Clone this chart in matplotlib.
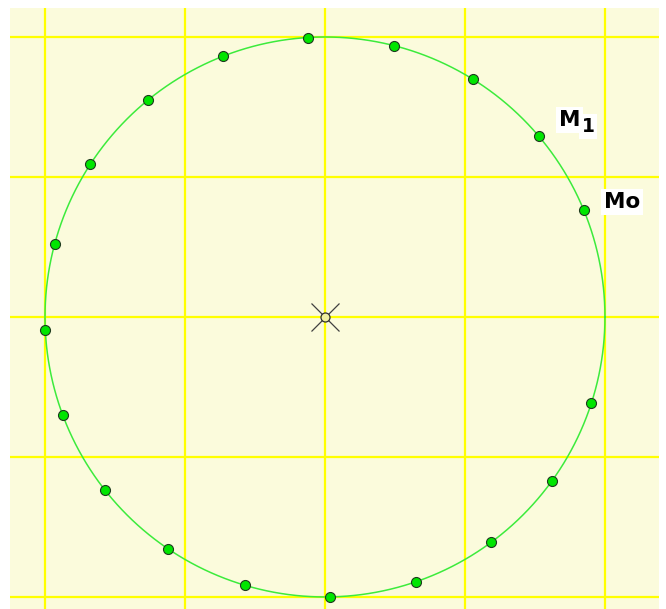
import numpy as np
import matplotlib
matplotlib.use("Agg")
import matplotlib.pyplot as plt

# ---- data ----
radius = 2.0
center_x, center_y = 0.0, 0.0
point_angles_deg = [22.4, 40.3, 58.1, 75.8, 93.5, 111.4, 129.3, 147.0, 164.8,
                    182.7, 200.4, 218.2, 236.0, 253.4, 271.0, 289.0, 306.4,
                    324.2, 342.0]
grid_x = [-2, -1, 0, 1, 2]
grid_y = [-2, -1, 0, 1, 2]
label_m0_index = 0
label_m1_index = 1

fig = plt.figure(figsize=(6.66, 6.09), dpi=100)
W, H = 666, 609
ax = fig.add_axes([10 / W, 0, (659 - 10) / W, (609 - 8) / H])
ax.set_facecolor("#FBFBDC")
ax.set_xlim(-2.25, 2.386)
ax.set_ylim(-2.086, 2.207)
for s in ax.spines.values():
    s.set_visible(False)
ax.set_xticks([])
ax.set_yticks([])

for gx in grid_x:
    ax.axvline(gx, color="#FFFF00", lw=1.6, zorder=1)
for gy in grid_y:
    ax.axhline(gy, color="#FFFF00", lw=1.6, zorder=1)

t = np.linspace(0, 2 * np.pi, 721)
ax.plot(center_x + radius * np.cos(t), center_y + radius * np.sin(t),
        color="#3CEB3C", lw=1.1, zorder=2)

a = np.deg2rad(point_angles_deg)
px = center_x + radius * np.cos(a)
py = center_y + radius * np.sin(a)
ax.plot(px, py, "o", ms=7.2, mfc="#00E600", mec="#1E3A1E", mew=0.8, zorder=3)

# center marker
ax.plot([center_x], [center_y], marker="x", ms=20, mew=0.9, color="#404040", zorder=4)
ax.plot([center_x], [center_y], marker="o", ms=6.5, mfc="#F0F0A0", mec="#303030",
        mew=0.9, zorder=5)

font = dict(family="DejaVu Sans", weight="bold", color="black")
bb = dict(facecolor="white", edgecolor="none", pad=2.0)
ax.annotate("M", (px[label_m1_index], py[label_m1_index]), xytext=(20, 10),
            textcoords="offset pixels", fontsize=15.5, va="baseline", ha="left",
            bbox=bb, zorder=6, **font)
ax.annotate("1", (px[label_m1_index], py[label_m1_index]), xytext=(43, 4),
            textcoords="offset pixels", fontsize=13.5, va="baseline", ha="left",
            bbox=bb, zorder=6, **font)
ax.annotate("Mo", (px[label_m0_index], py[label_m0_index]), xytext=(20, 2),
            textcoords="offset pixels", fontsize=15.5, va="baseline", ha="left",
            bbox=bb, zorder=6, **font)

fig.savefig("out.png", dpi=100, facecolor="white")
